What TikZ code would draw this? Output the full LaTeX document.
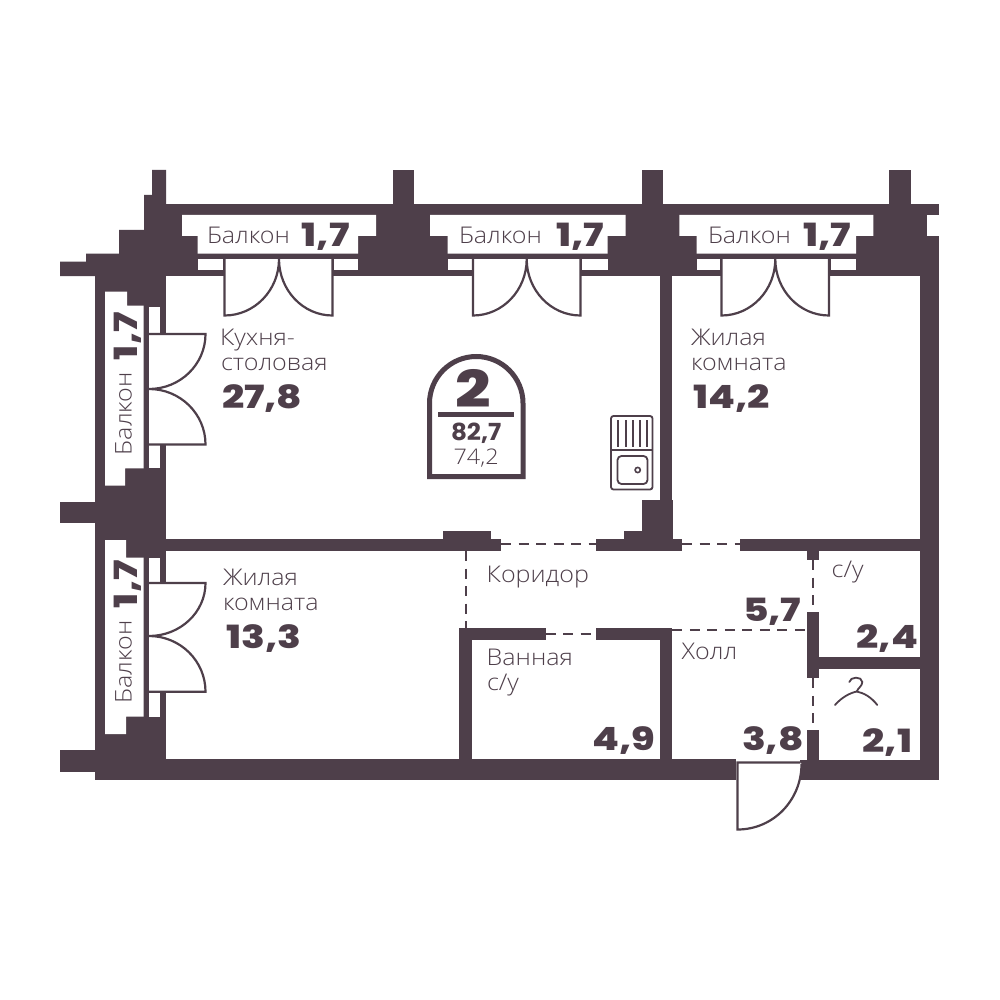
\documentclass[tikz,border=0pt]{standalone}
\usepackage{fontspec}
\setmainfont{Open Sans Light}[FakeStretch=1.09]
\newfontfamily\numf{Poppins}[UprightFont=* ExtraBold,FakeStretch=1.22]
\newfontfamily\numg{Poppins}[UprightFont=* Bold,FakeStretch=1.05]
\definecolor{ink}{HTML}{4E3F4A}
\tikzset{
  x=1pt,y=-1pt,
  wall/.style={fill=ink,draw=none},
  hole/.style={fill=white,draw=none},
  leaf/.style={draw=ink,line width=2.2pt,fill=white,line join=miter},
  dashline/.style={draw=ink,line width=1.7pt,dash pattern=on 10pt off 7.5pt},
  lab/.style={anchor=base west,inner sep=0pt,outer sep=0pt,text=ink,font=\fontsize{23}{23}\selectfont},
  num/.style={anchor=base west,inner sep=0pt,outer sep=0pt,text=ink,font=\numf\fontsize{32}{32}\selectfont},
  vlab/.style={lab,rotate=90},
  vnum/.style={num,rotate=90},
  thin/.style={draw=ink,line width=1.8pt,line cap=round}
}
\begin{document}
\begin{tikzpicture}
\useasboundingbox (0,0) rectangle (1000,1000);
\fill[white] (0,0) rectangle (1000,1000);
% outer masses
\fill[wall] (152,170)--(166,170)--(166,276)--(60,276)--(60,261.7)--(86,261.7)--(86,253.7)--(119,253.7)--(119,230)--(144,230)--(144,195)--(152,195)--cycle;
\fill[wall] (166,204.5) rectangle (939,275.7);
\foreach \a in {392.7,641.7,889.3}{\fill[wall] (\a,170) rectangle ({\a+21.6},205);}
\fill[wall] (95,275) rectangle (165.7,780);
\fill[wall] (60,501.7) rectangle (95,523.3);
\fill[wall] (60,750) rectangle (95,772.3);
\fill[wall] (95,758.5) rectangle (736,780);
\fill[wall] (800,759.5) rectangle (939,780);
\fill[wall] (920,215) rectangle (939,780);
% interior walls
\fill[wall] (660,275) rectangle (672.3,545);
\fill[wall] (641.7,500) rectangle (673.3,545);
\fill[wall] (624,530.7) rectangle (673.3,545);
\fill[wall] (165,539) rectangle (501,551);
\fill[wall] (442.7,530.7) rectangle (490.7,545);
\fill[wall] (595.7,539) rectangle (682,551);
\fill[wall] (740,538.5) rectangle (925,551);
\fill[wall] (807,551) rectangle (819.3,560);
\fill[wall] (807,611.7) rectangle (819.3,678.3);
\fill[wall] (819,656.7) rectangle (925,669);
\fill[wall] (807,730) rectangle (819.3,765);
\fill[wall] (459.3,628) rectangle (472.3,765);
\fill[wall] (459.3,627.7) rectangle (545.7,640);
\fill[wall] (596,627.7) rectangle (672.3,640);
\fill[wall] (660,627.7) rectangle (672.3,765);
% dashed partitions
\draw[dashline] (501,544.3)--(596,544.3);
\draw[dashline] (682,544.3)--(740,544.3);
\draw[dashline] (466.3,551)--(466.3,628);
\draw[dashline] (545.7,634)--(596,634);
\draw[dashline] (672.3,630)--(807,630);
\draw[dashline] (813.3,560)--(813.3,611.7);
\draw[dashline] (813.3,678.3)--(813.3,730);
% top balconies
\fill[hole] (182,215)--(376,215)--(376,236)--(358,236)--(358,253.7)--(197.7,253.7)--(197.7,236)--(182,236)--cycle;
\fill[hole] (430,215)--(625.7,215)--(625.7,236)--(607.7,236)--(607.7,253.7)--(447.7,253.7)--(447.7,236)--(430,236)--cycle;
\fill[hole] (679.3,215)--(873.3,215)--(873.3,236)--(856,236)--(856,253.7)--(696.7,253.7)--(696.7,236)--(679.3,236)--cycle;
\fill[hole] (927,215) rectangle (940,236);
\foreach \a/\b in {197.7/223,334/358,447.7/471.7,581.7/607.7,696.7/720,830.7/856}{\fill[hole] (\a,259) rectangle (\b,270);}
\foreach \a/\b in {224/333,472.7/581,721/830}{\fill[hole] (\a,259) rectangle (\b,276);}
% left balconies
\fill[hole] (105,291.7)--(127,291.7)--(127,305.7)--(143.7,305.7)--(143.7,468.3)--(125,468.3)--(125,485.7)--(105,485.7)--cycle;
\fill[hole] (105,540)--(126,540)--(126,557.7)--(143.7,557.7)--(143.7,716.7)--(126,716.7)--(126,734)--(105,734)--cycle;
\foreach \a/\b in {306.7/334,445/468.3,557.7/581.7,693/716.7}{\fill[hole] (149,\a) rectangle (160,\b);}
\foreach \a/\b in {334/445,582/692}{\fill[hole] (149,\a) rectangle (166,\b);}
% doors, top wall
\foreach \l/\h/\r in {224.5/279/332.5,473/526.7/580.5,721.5/775.3/829}{
  \draw[leaf] (\l,259)--(\l,315.5) .. controls ({\l+0.5523*(\h-\l)},315.5) and (\h,290.2) .. (\h,259)
     .. controls (\h,290.2) and ({\r-0.5523*(\r-\h)},315.5) .. (\r,315.5)--(\r,259);
}
% doors, left wall
\foreach \t/\h/\b in {334/389/444.5,583/636/691.7}{
  \draw[leaf] (149,\t)--(205.5,\t) .. controls (205.5,{\t+0.5523*(\h-\t)}) and (180.2,\h) .. (149,\h)
     .. controls (180.2,\h) and (205.5,{\b-0.5523*(\b-\h)}) .. (205.5,\b)--(149,\b);
}
% entrance door
\draw[leaf] (800,762.5)--(737.5,762.5)--(737.5,829.5) .. controls (773.4,829.5) and (801.5,800) .. (801.5,764);
% sink
\draw[draw=ink,line width=1.8pt,rounded corners=2.5pt] (611,416) rectangle (652.5,489.5);
\draw[draw=ink,line width=1.8pt] (611,450)--(652.5,450);
\foreach \a in {618.3,625.7,633,640,646.7}{\draw[draw=ink,line width=1.8pt] (\a,420)--(\a,446.5);}
\draw[draw=ink,line width=1.8pt,rounded corners=4pt] (617.5,456)rectangle (647.5,484);
\draw[draw=ink,line width=1.6pt] (637.7,470) circle[radius=2.6pt];
% badge
\draw[draw=ink,line width=5pt,fill=white,line join=miter] (429.5,476.5)--(429.5,403.3) .. controls (429.5,377.5) and (450.4,356.5) .. (476.2,356.5) .. controls (502,356.5) and (523,377.5) .. (523,403.3)--(523,476.5)--cycle;
\fill[wall] (438,411.7) rectangle (514,416.7);
\node[num,font=\numf\fontsize{51}{51}\selectfont] (two) at (455,407) {2};
\node[num,font=\numg\fontsize{23.5}{23.5}\selectfont] (tot) at (451,440) {82,7};
\node[lab,font=\fontsize{21.5}{21.5}\selectfont] (liv) at (453.5,464.3) {74,2};
% hanger
\draw[thin] (835,705) .. controls (842,697) and (850,693) .. (856.7,691.5) .. controls (864,693) and (871,697) .. (877.3,705);
\draw[thin] (849.3,682) .. controls (850,676.5) and (862,676) .. (862.3,682) .. controls (862.3,686) and (858,688) .. (856.7,691.5);
% balcony texts
\node[lab] (b1) at (207,243.2) {Балкон};
\node[num] (b1n) at (301.7,246) {1,7};
\node[lab] (b2) at (459,243.2) {Балкон};
\node[num] (b2n) at (556,246) {1,7};
\node[lab] (b3) at (708,243.2) {Балкон};
\node[num] (b3n) at (803,246) {1,7};
\node[vlab] (b4) at (131.7,455) {Балкон};
\node[vnum] (b4n) at (137,360) {1,7};
\node[vlab] (b5) at (131.7,703.3) {Балкон};
\node[vnum] (b5n) at (137,608) {1,7};
% rooms
\node[lab] (k1) at (220,345.7) {Кухня-};
\node[lab] (k2) at (221,370.7) {столовая};
\node[num] (k3) at (222,408) {27,8};
\node[lab] (r1) at (691,345) {Жилая};
\node[lab] (r2) at (691,370) {комната};
\node[num] (r3) at (693,408) {14,2};
\node[lab] (l1) at (223,585) {Жилая};
\node[lab] (l2) at (223,610) {комната};
\node[num] (l3) at (226.7,648) {13,3};
\node[lab] (c1) at (486.7,582.7) {Коридор};
\node[num] (c2) at (743,621.7) {5,7};
\node[lab] (w1) at (486.7,665.7) {Ванная};
\node[lab] (w2) at (487,690.7) {с/у};
\node[num] (w3) at (592.7,750) {4,9};
\node[lab] (h1) at (681.7,659.3) {Холл};
\node[num] (h2) at (742,750) {3,8};
\node[lab] (s1) at (831.7,577.3) {с/у};
\node[num] (s2) at (856.7,648) {2,4};
\node[num] (g1) at (862.7,752.3) {2,1};
\end{tikzpicture}
\end{document}
